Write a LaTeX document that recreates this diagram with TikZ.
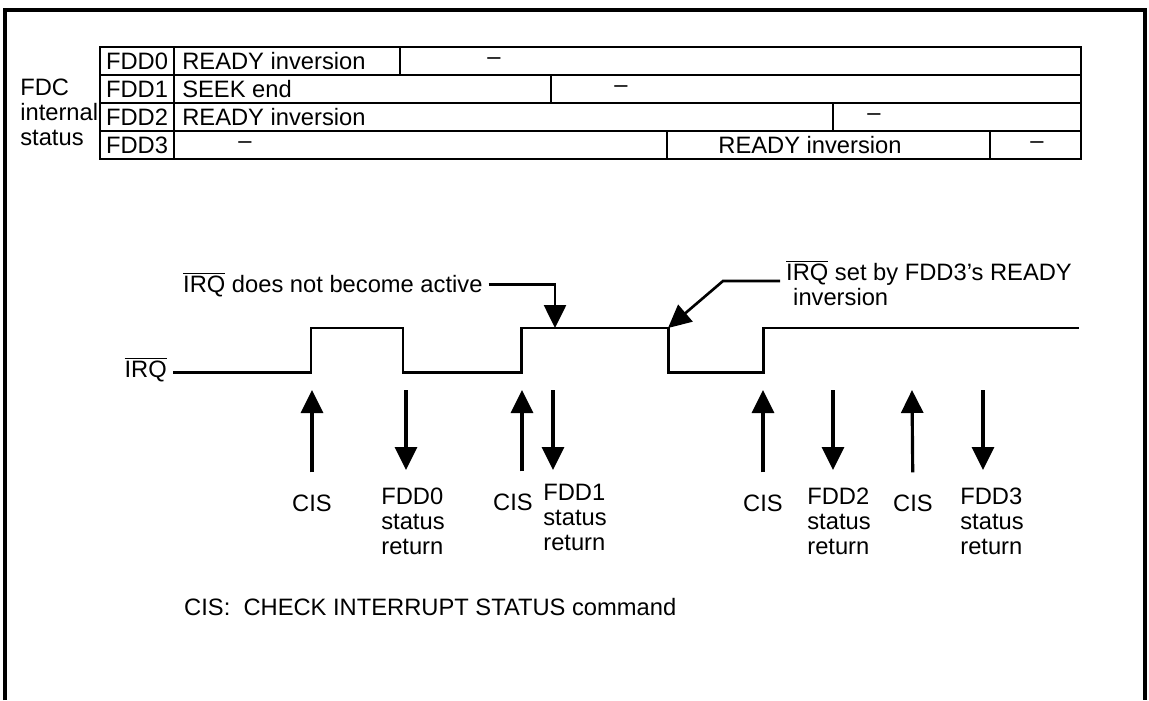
\documentclass[tikz,border=0pt]{standalone}
\usepackage{fontspec}
\setmainfont{Liberation Sans}
\usetikzlibrary{arrows.meta,positioning,calc}
\newcommand{\nIRQ}{$\overline{\mbox{IRQ}}$}

\begin{document}
\begin{tikzpicture}[
  x=0.02cm, y=-0.02cm,
  font=\fontsize{13.5}{14.2}\selectfont,
  cell/.style={draw,line width=0.85pt,minimum height=0.56cm,inner sep=0pt,outer sep=0pt},
  intext/.style={anchor=west,inner sep=0pt},
  frame/.style={line width=2pt},
  wave/.style={line width=1.7pt},
  tip/.style={-{Triangle[width=4.4mm,length=4.6mm]}},
  lead/.style={tip,line width=1.5pt},
  sig/.style={tip,line width=1.8pt},
  ret/.style={anchor=north west,align=left,inner sep=0pt}
]
\useasboundingbox (0,0) rectangle (1149,700);
\draw[frame] (5,700) -- (5,10) -- (1145,10) -- (1145,700);

% internal status table
\node[align=left,anchor=west,inner sep=0pt] (fdc) at (20,112) {FDC\\internal\\status};
\node[cell,anchor=west,minimum width=1.48cm] (f0) at (100,61) {FDD0};
\node[cell,minimum width=4.52cm,right=0pt of f0] (s00) {};
\node[cell,minimum width=13.62cm,right=0pt of s00] (s01) {};
\node[cell,anchor=west,minimum width=1.48cm] (f1) at (100,89) {FDD1};
\node[cell,minimum width=7.54cm,right=0pt of f1] (s10) {};
\node[cell,minimum width=10.6cm,right=0pt of s10] (s11) {};
\node[cell,anchor=west,minimum width=1.48cm] (f2) at (100,117) {FDD2};
\node[cell,minimum width=13.18cm,right=0pt of f2] (s20) {};
\node[cell,minimum width=4.96cm,right=0pt of s20] (s21) {};
\node[cell,anchor=west,minimum width=1.48cm] (f3) at (100,145) {FDD3};
\node[cell,minimum width=9.86cm,right=0pt of f3] (s30) {};
\node[cell,minimum width=6.46cm,right=0pt of s30] (s31) {};
\node[cell,minimum width=1.82cm,right=0pt of s31] (s32) {};
\node[intext] (r0) at ([xshift=0.16cm]s00.west) {READY inversion};
\node (n0) at (494,61) {--};
\node[intext] (r1) at ([xshift=0.16cm]s10.west) {SEEK end};
\node (n1) at (621,89) {--};
\node[intext] (r2) at ([xshift=0.16cm]s20.west) {READY inversion};
\node (n2) at (874,117) {--};
\node (n3) at (245,145) {--};
\node (r3) at (810,145) {READY inversion};
\node (n4) at (1037,145) {--};

% IRQ waveform
\node[anchor=base east] (irq) at (173,377) {\nIRQ};
\coordinate (hold) at (555,328);
\coordinate (fall) at (668,328);
\draw[wave] (173,372) -- (311,372) -- (311,328) -- (403,328) -- (403,372) -- (521,372) -- (521,328) -- (fall) -- (668,372) -- (763,372) -- (763,328) -- (1079,328);

\node[anchor=base west] (noact) at (177,292) {\nIRQ\ does not become active};
\draw[lead] (noact.east) -| (hold);
\node[anchor=north west,align=left] (setby) at (780,254) {\nIRQ\ set by FDD3's READY\\\hspace*{4pt}inversion};
\coordinate (kink) at (723,281);
\draw[lead] (setby.west |- kink) -- (kink) -- (fall);

% commands and status returns
\node (cis1) at (312,503) {CIS};
\node (cis2) at (513,502) {CIS};
\node (cis3) at (763,503) {CIS};
\node (cis4) at (913,503) {CIS};
\coordinate (u1) at (312,390);
\coordinate (u2) at (522,390);
\coordinate (u3) at (763,390);
\coordinate (u4) at (912,390);
\draw[sig,shorten <=0.32cm] (cis1) -- (u1);
\draw[sig] ([yshift=0.32cm]cis2.north -| u2) -- (u2);
\draw[sig,shorten <=0.32cm] (cis3) -- (u3);
\draw[sig,shorten <=0.32cm] (cis4) -- (u4);

\node[ret] (st0) at (381,488) {FDD0\\status\\return};
\node[ret] (st1) at (543,484) {FDD1\\status\\return};
\node[ret] (st2) at (807,488) {FDD2\\status\\return};
\node[ret] (st3) at (960,488) {FDD3\\status\\return};
\coordinate (d0) at (406,390);
\coordinate (d1) at (553,390);
\coordinate (d2) at (833,390);
\coordinate (d3) at (983,390);
\draw[sig,shorten >=0.36cm] (d0) -- (d0 |- st0.north);
\draw[sig,shorten >=0.28cm] (d1) -- (d1 |- st1.north);
\draw[sig,shorten >=0.36cm] (d2) -- (d2 |- st2.north);
\draw[sig,shorten >=0.36cm] (d3) -- (d3 |- st3.north);

\node[anchor=west] (note) at (178,607) {CIS:\ \ CHECK INTERRUPT STATUS command};
\end{tikzpicture}
\end{document}
